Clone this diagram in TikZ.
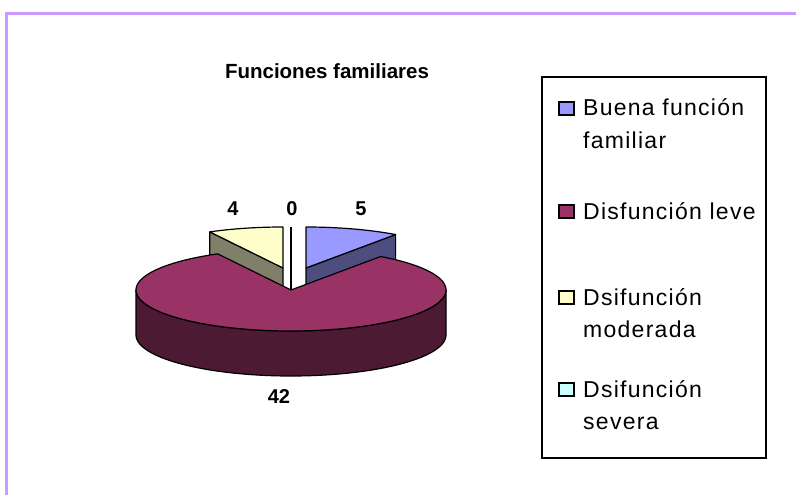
\documentclass[tikz,border=0pt]{standalone}
\usepackage{fontspec}
\setmainfont{Liberation Sans}
\newfontfamily\legendfont[LetterSpace=5.5]{Liberation Sans}
\usetikzlibrary{calc}
\definecolor{frameviolet}{HTML}{CC99FF}
\definecolor{pieblue}{HTML}{9999FF}
\definecolor{pieblueside}{HTML}{4D4D80}
\definecolor{piewine}{HTML}{993366}
\definecolor{piewineside}{HTML}{4D1A33}
\definecolor{pieyellow}{HTML}{FFFFCC}
\definecolor{pieyellowside}{HTML}{80806A}
\definecolor{piecyan}{HTML}{CCFFFF}
\tikzset{
    slice/.style={
        draw=black,
        line width=1.2pt,
        line join=round
    },
    legendbox/.style={
        rectangle,
        draw=black,
        line width=1.2pt,
        minimum width=224pt,
        minimum height=381pt,
        inner sep=0pt
    },
    legendkey/.style={
        rectangle,
        draw=black,
        line width=1.2pt,
        minimum width=15pt,
        minimum height=13pt,
        inner sep=0pt
    },
    legendtext/.style={
        anchor=base west,
        inner sep=0pt,
        font=\legendfont\fontsize{23}{28}\selectfont
    },
    datalabel/.style={
        anchor=base,
        inner sep=0pt,
        font=\bfseries\fontsize{20}{24}\selectfont
    }
}

\begin{document}
\begin{tikzpicture}[x=1pt, y=-1pt]

\useasboundingbox (0,0) rectangle (796,495);

% chart frame
\draw[frameviolet, line width=3pt] (6.5,500) -- (6.5,13.5) -- (800,13.5);

\node[anchor=base, inner sep=0pt, font=\bfseries\fontsize{20.5}{24}\selectfont] (title) at (327,78) {Funciones familiares};

% exploded slices at the back
\coordinate (bapex) at (306,268);
\coordinate (brim) at (395.6,234.5);
\coordinate (yapex) at (283,268);
\coordinate (yrim) at (209.8,231.9);
\coordinate (cback) at (291,227);
\coordinate (cdown) at (291,313);

\filldraw[slice, fill=pieblueside] (bapex) -- (brim) -- ($(brim)+(0,45)$) -- ($(bapex)+(0,45)$) -- cycle;
\filldraw[slice, fill=pieblue] (bapex) -- plot[domain=90:54.7, samples=30] ({306+155*cos(\x)},{268-41*sin(\x)}) -- cycle;

\filldraw[slice, fill=pieyellowside] (yapex) -- (yrim) -- ($(yrim)+(0,45)$) -- ($(yapex)+(0,45)$) -- cycle;
\filldraw[slice, fill=pieyellow] (yapex) -- plot[domain=118.2:90, samples=30] ({283+155*cos(\x)},{268-41*sin(\x)}) -- cycle;

\draw[slice, fill=piecyan] (cback) -- (cdown);

% main slice
\filldraw[slice, fill=piewineside] plot[domain=0:-180, samples=80] ({291+155*cos(\x)},{290-41*sin(\x)})
    -- plot[domain=-180:0, samples=80] ({291+155*cos(\x)},{335-41*sin(\x)}) -- cycle;
\coordinate (wapex) at (291,290);
\filldraw[slice, fill=piewine] (wapex) -- plot[domain=54.7:-241.8, samples=150] ({291+155*cos(\x)},{290-41*sin(\x)}) -- cycle;

\node[datalabel] (lfour) at (233,215.5) {4};
\node[datalabel] (lzero) at (292,215.5) {0};
\node[datalabel] (lfive) at (361,215.5) {5};
\node[datalabel] (lfortytwo) at (279,403) {42};

% legend
\node[legendbox] (legend) at (654,267.5) {};

\node[legendkey, fill=pieblue] (key1) at (566.5,108.5) {};
\node[legendtext] (leg1a) at (583,116) {Buena función};
\node[legendtext] (leg1b) at (583,148) {familiar};

\node[legendkey, fill=piewine] (key2) at (566.5,211.5) {};
\node[legendtext] (leg2a) at (583,219) {Disfunción leve};

\node[legendkey, fill=pieyellow] (key3) at (566.5,297.5) {};
\node[legendtext] (leg3a) at (583,305) {Dsifunción};
\node[legendtext] (leg3b) at (583,337) {moderada};

\node[legendkey, fill=piecyan] (key4) at (566.5,389.5) {};
\node[legendtext] (leg4a) at (583,397) {Dsifunción};
\node[legendtext] (leg4b) at (583,429) {severa};

\end{tikzpicture}
\end{document}
